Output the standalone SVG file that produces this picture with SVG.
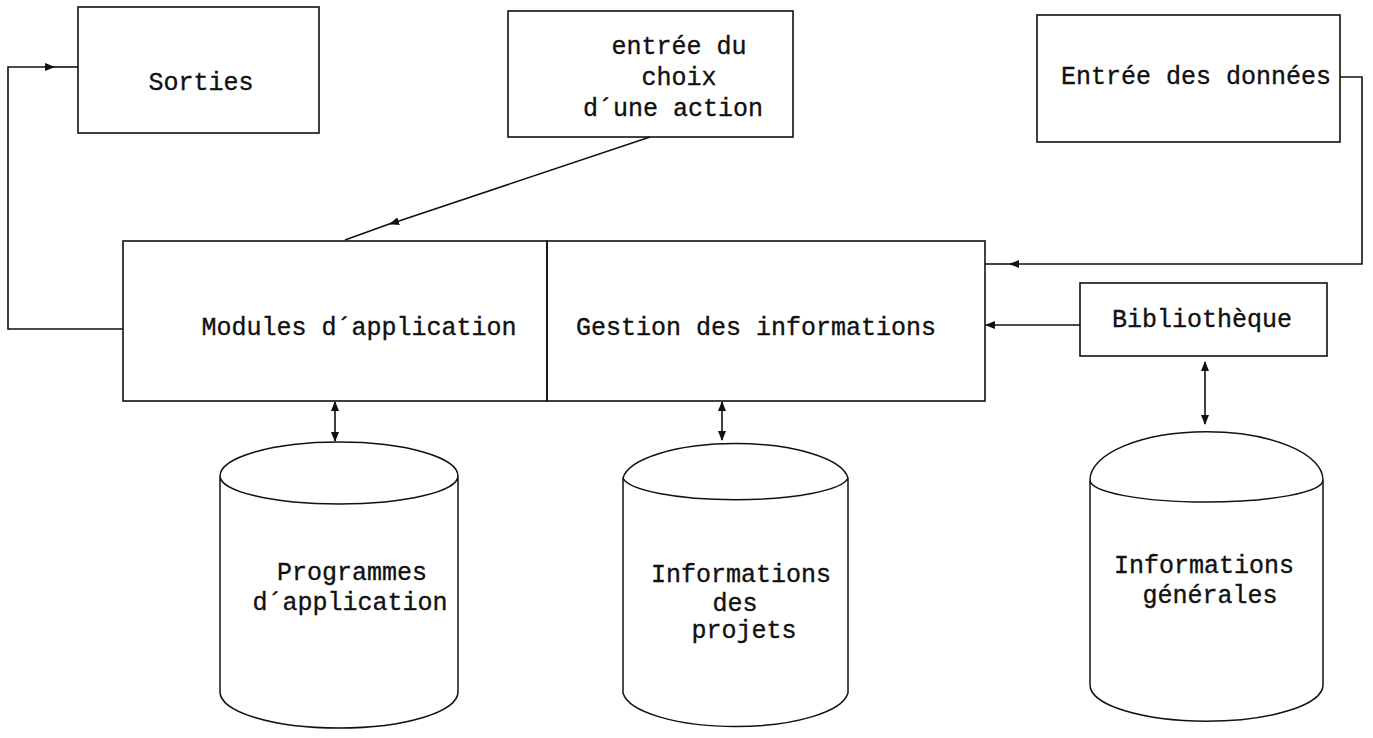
<svg xmlns="http://www.w3.org/2000/svg" width="1373" height="738" viewBox="0 0 1373 738">
<style>
.box{fill:none;stroke:#111;stroke-width:1.6}
.cyl{fill:none;stroke:#111;stroke-width:1.5}
.ln{fill:none;stroke:#111;stroke-width:1.6}
text{font-family:"Liberation Mono","Courier New",monospace;font-size:25px;fill:#111;stroke:#111;stroke-width:0.35;text-anchor:middle}
</style>
<defs>
<marker id="ah" viewBox="0 0 10 8" refX="9" refY="4" markerWidth="10" markerHeight="8" markerUnits="userSpaceOnUse" orient="auto">
<path d="M0,0 L10,4 L0,8 Z" fill="#111"/>
</marker>
<marker id="ahs" viewBox="0 0 10 8" refX="1" refY="4" markerWidth="10" markerHeight="8" markerUnits="userSpaceOnUse" orient="auto">
<path d="M10,0 L0,4 L10,8 Z" fill="#111"/>
</marker>
</defs>
<g id="sorties">
<rect class="box" x="78" y="7" width="241" height="126"/>
<text x="201" y="90">Sorties</text>
</g>
<g id="choix">
<rect class="box" x="508" y="11" width="285" height="126"/>
<text x="679" y="54">entrée du</text>
<text x="679" y="85">choix</text>
<text x="673" y="116">d´une action</text>
</g>
<g id="donnees">
<rect class="box" x="1037" y="15" width="303" height="127"/>
<text x="1196" y="84">Entrée des données</text>
</g>
<g id="modules">
<rect class="box" x="123" y="241" width="424" height="160"/>
<text x="359" y="335">Modules d´application</text>
</g>
<g id="gestion">
<rect class="box" x="547" y="241" width="438" height="160"/>
<text x="756" y="335">Gestion des informations</text>
</g>
<g id="bibliotheque">
<rect class="box" x="1080" y="283" width="247" height="73"/>
<text x="1202" y="327">Bibliothèque</text>
</g>
<g id="programmes">
<path class="cyl" d="M220,476 A119,34 0 0 1 458,476 A119,28 0 0 1 220,476 Z M220,476 V692 A119,36 0 0 0 458,692 V476"/>
<text x="352" y="580">Programmes</text>
<text x="350" y="610">d´application</text>
</g>
<g id="projets">
<path class="cyl" d="M623,478 A113,38 0 0 1 848,478 A113,24 0 0 1 623,478 Z M623,478 V693 A113,37 0 0 0 848,693 V478"/>
<text x="741" y="582">Informations</text>
<text x="735" y="611">des</text>
<text x="744" y="638">projets</text>
</g>
<g id="generales">
<path class="cyl" d="M1090,480 A116,48 0 0 1 1323,480 A116,22 0 0 1 1090,480 Z M1090,480 V685 A116,36 0 0 0 1323,685 V480"/>
<text x="1204" y="573">Informations</text>
<text x="1210" y="603">générales</text>
</g>
<g id="connectors">
<path class="ln" d="M123,329 H8 V67 H54" marker-end="url(#ah)"/>
<path class="ln" d="M50,67 H78"/>
<path class="ln" d="M650,137 L390,224" marker-end="url(#ah)"/>
<path class="ln" d="M392,223 L345,240"/>
<path class="ln" d="M1340,77 H1362 V264 H1010" marker-end="url(#ah)"/>
<path class="ln" d="M1014,264 H985"/>
<path class="ln" d="M1080,325 H986" marker-end="url(#ah)"/>
<path class="ln" d="M335,402 V441" marker-start="url(#ahs)" marker-end="url(#ah)"/>
<path class="ln" d="M722,402 V440" marker-start="url(#ahs)" marker-end="url(#ah)"/>
<path class="ln" d="M1205,362 V424" marker-start="url(#ahs)" marker-end="url(#ah)"/>
</g>
</svg>
